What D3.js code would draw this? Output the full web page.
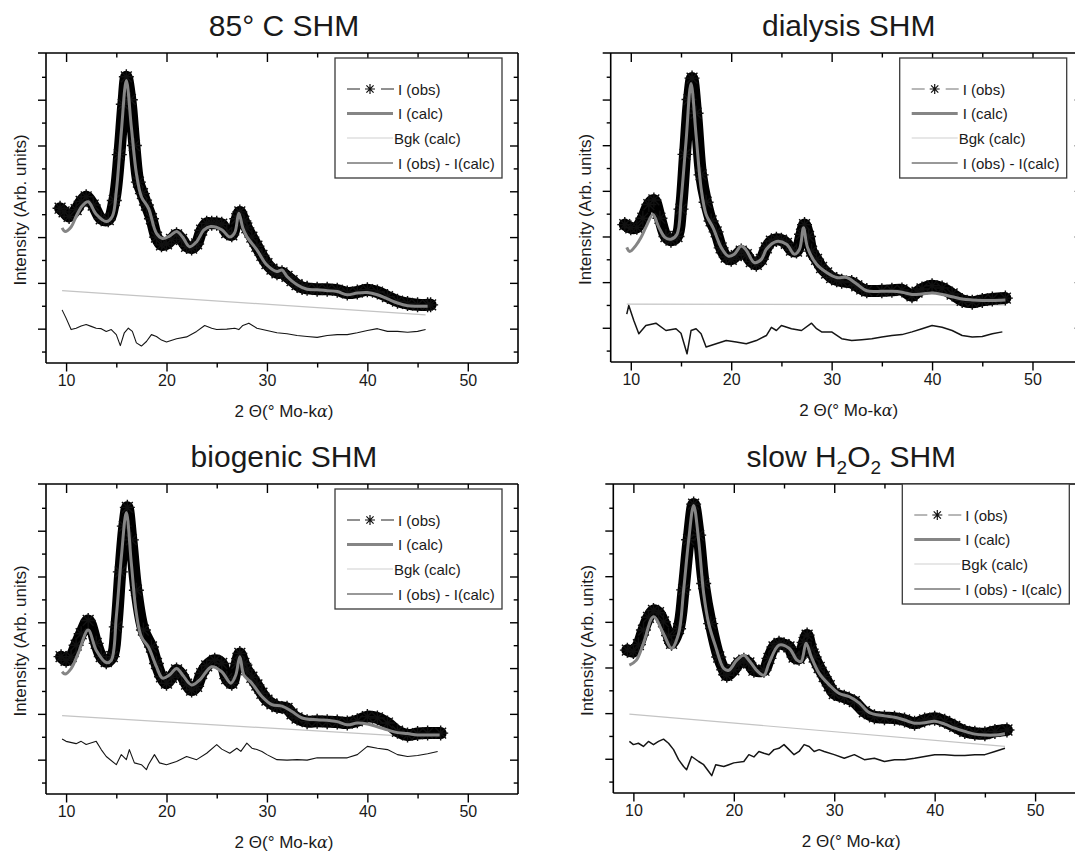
<!DOCTYPE html>
<html><head><meta charset="utf-8">
<script src="https://cdn.jsdelivr.net/npm/d3@7"></script>
<style>
body{margin:0;background:#fff;}
svg text{font-family:"Liberation Sans",Arial,sans-serif;fill:#1a1a1a;}
</style></head>
<body><svg id="c" width="1075" height="856"></svg>
<script>
// ---------- data ----------
const titles = ["85° C SHM", "dialysis SHM", "biogenic SHM", "slow H2O2 SHM"];
const xTickValues = [10, 20, 30, 40, 50];
const xTickLabels = ["10", "20", "30", "40", "50"];
const xMinorTicks = [15, 25, 35, 45];
const yMajorTicks = [0, 1, 2, 3, 4, 5];
const yMinorTicks = [-0.5, 0.5, 1.5, 2.5, 3.5, 4.5, 5.5];
const xLabel = "2 Θ(° Mo-kα)";
const yLabel = "Intensity (Arb. units)";
const legendLabels = ["I (obs)", "I (calc)", "Bgk (calc)", "I (obs) - I(calc)"];

// 85° C SHM
const calc1 = [[9.6,2.20],[9.9,2.12],[10.5,2.22],[11,2.45],[11.6,2.68],[12.2,2.77],[13,2.50],[14,2.34],[14.6,2.45],[15,3.0],[15.5,4.3],[16,5.42],[16.5,4.4],[17,3.39],[17.5,2.88],[18.2,2.63],[19,2.08],[19.6,1.97],[20.3,2.02],[21,2.12],[21.6,2.0],[22.3,1.79],[23,1.90],[23.7,2.15],[24.4,2.23],[25.5,2.16],[26.3,2.00],[26.8,2.1],[27.2,2.52],[27.6,2.2],[28,2.01],[29,1.72],[30,1.39],[31,1.25],[31.5,1.28],[32,1.14],[33,0.96],[34,0.86],[35,0.85],[36,0.83],[37,0.81],[38,0.74],[39,0.78],[40,0.79],[41,0.74],[42,0.65],[43,0.56],[44,0.50],[45,0.49],[46,0.49]];
const obs1 = [[9.4,2.63],[9.8,2.55],[10.3,2.45],[11,2.6],[11.5,2.78],[12,2.88],[12.7,2.7],[13.5,2.4],[14.2,2.38],[14.8,2.8],[15.3,3.8],[15.7,4.9],[16,5.5],[16.4,5.0],[16.8,4.0],[17.2,3.2],[17.6,2.95],[18,2.7],[18.5,2.4],[19,2.0],[19.5,1.83],[20,1.85],[20.5,1.95],[21,2.05],[21.5,1.95],[22,1.8],[22.5,1.76],[23,1.85],[23.5,2.15],[24,2.3],[24.5,2.3],[25,2.3],[25.5,2.28],[26,2.1],[26.5,2.05],[27,2.4],[27.3,2.55],[27.7,2.35],[28,2.2],[28.5,2.0],[29,1.8],[29.5,1.6],[30,1.42],[30.5,1.3],[31,1.22],[31.5,1.22],[32,1.14],[32.5,1.05],[33,0.96],[33.5,0.9],[34,0.88],[35,0.86],[36,0.86],[37,0.84],[38,0.78],[39,0.8],[40,0.85],[41,0.8],[42,0.7],[43,0.6],[44,0.55],[45,0.52],[46,0.52],[46.3,0.52]];
const bgk1 = [[9.6,0.83],[45.8,0.30]];
const diff1 = [[9.6,0.41],[10,0.23],[10.5,-0.02],[11,0.01],[11.5,0.06],[12,0.09],[12.5,0.05],[13,0.01],[13.5,0.0],[14,-0.06],[14.5,-0.02],[15,-0.13],[15.4,-0.37],[15.8,-0.09],[16.2,0.01],[16.6,-0.06],[17,-0.31],[17.5,-0.38],[18,-0.28],[18.5,-0.13],[19,-0.17],[19.5,-0.25],[20,-0.29],[21,-0.22],[22,-0.18],[23,-0.06],[23.8,0.07],[24.5,0.01],[25,-0.02],[26,-0.01],[26.8,0.01],[27.2,-0.02],[27.6,0.07],[28.2,0.12],[29,0.01],[30,-0.04],[31,-0.09],[32,-0.11],[33,-0.15],[34,-0.17],[35,-0.19],[36,-0.15],[37,-0.13],[38,-0.13],[39,-0.09],[40,-0.04],[41,0.0],[42,-0.06],[43,-0.06],[44,-0.08],[45,-0.06],[45.8,-0.02]];

// dialysis SHM
const calc2 = [[9.6,1.76],[9.9,1.67],[10.5,1.8],[11,1.97],[11.6,2.25],[12.2,2.48],[12.8,2.2],[13.4,1.98],[14,1.94],[14.6,2.05],[15,2.77],[15.5,4.08],[16,5.35],[16.5,4.22],[17,3.06],[17.5,2.48],[18.2,2.19],[19,1.76],[19.7,1.57],[20.3,1.61],[21,1.79],[21.5,1.70],[22.3,1.43],[23,1.50],[23.5,1.72],[24.5,1.89],[25.5,1.83],[26.3,1.61],[26.8,1.72],[27.2,2.19],[27.6,1.76],[28.5,1.39],[29.5,1.21],[30.5,1.10],[31.5,1.10],[32.5,0.96],[33.5,0.81],[35,0.80],[36,0.80],[37,0.78],[38,0.73],[39,0.74],[40,0.76],[41,0.73],[42,0.68],[43,0.63],[44,0.61],[45,0.60],[46,0.60],[47.3,0.61]];
const obs2 = [[9.4,2.26],[10,2.19],[10.6,2.2],[11.2,2.4],[11.8,2.7],[12.3,2.8],[12.9,2.4],[13.5,2.0],[14,1.92],[14.6,2.0],[15,2.6],[15.4,3.8],[15.8,5.0],[16.1,5.47],[16.5,4.7],[17,3.35],[17.5,2.75],[18,2.34],[18.5,2.1],[19,1.75],[19.5,1.55],[20,1.50],[20.5,1.58],[21,1.68],[21.5,1.6],[22,1.45],[22.5,1.39],[23,1.5],[23.5,1.75],[24,1.9],[24.5,1.94],[25,1.92],[25.5,1.85],[26,1.7],[26.5,1.68],[27,2.05],[27.3,2.26],[27.7,2.0],[28,1.68],[28.5,1.5],[29,1.32],[29.5,1.2],[30,1.10],[30.5,1.05],[31,1.02],[32,0.99],[32.5,0.92],[33,0.85],[33.5,0.81],[35,0.81],[36,0.82],[37,0.83],[38,0.70],[38.5,0.78],[39,0.85],[40,0.92],[41,0.87],[42,0.74],[43,0.60],[44,0.56],[45,0.60],[46,0.63],[47.3,0.65]];
const bgk2 = [[9.6,0.52],[47.3,0.50]];
const diff2 = [[9.6,0.30],[9.8,0.49],[10.3,0.16],[10.8,-0.13],[11.5,0.05],[12.5,0.10],[13.5,-0.06],[14.5,-0.02],[15,-0.12],[15.6,-0.57],[16,-0.06],[16.5,-0.02],[17,-0.13],[17.5,-0.42],[18.5,-0.35],[19.5,-0.28],[20.5,-0.31],[21.5,-0.35],[22.5,-0.28],[23.5,-0.17],[24,0.01],[24.5,-0.06],[25,0.05],[26,-0.02],[27,-0.06],[28,0.10],[28.5,-0.02],[29,-0.09],[30,-0.09],[31,-0.24],[32,-0.28],[33,-0.26],[34,-0.24],[35,-0.20],[36,-0.17],[37,-0.15],[38,-0.09],[39,-0.02],[40,0.05],[41,0.01],[42,-0.06],[43,-0.17],[44,-0.20],[45,-0.19],[46,-0.13],[47,-0.09]];

// biogenic SHM
const calc3 = [[9.6,1.92],[9.9,1.87],[10.5,1.99],[11.2,2.32],[12.2,2.83],[13,2.39],[14,2.12],[14.5,2.17],[15,3.12],[15.5,4.42],[16,5.40],[16.5,4.28],[17,3.19],[17.5,2.68],[18.2,2.46],[19,2.03],[19.6,1.78],[20.3,1.85],[21,1.99],[21.6,1.85],[22.5,1.63],[23.3,1.74],[24.5,2.03],[25.5,1.92],[26.4,1.67],[26.9,1.85],[27.3,2.25],[27.7,1.85],[28.5,1.67],[29.5,1.38],[30.5,1.20],[31.5,1.17],[32.5,1.05],[33.5,0.91],[35,0.87],[36,0.86],[37,0.83],[38,0.76],[39,0.80],[40,0.78],[41,0.72],[42,0.65],[43,0.59],[44,0.57],[45,0.54],[46,0.54],[47.2,0.54]];
const obs3 = [[9.5,2.25],[10,2.17],[10.5,2.25],[11,2.5],[11.5,2.75],[12.2,3.04],[13,2.54],[13.5,2.25],[14,2.14],[14.6,2.25],[15,2.9],[15.4,4.1],[15.8,5.1],[16.1,5.51],[16.5,4.8],[17,3.70],[17.7,2.83],[18.5,2.46],[19,2.1],[19.5,1.81],[20,1.67],[20.5,1.8],[21,1.96],[21.5,1.85],[22,1.65],[22.5,1.52],[23,1.6],[23.5,1.88],[24,2.05],[24.8,2.17],[25.5,2.1],[26,1.77],[26.5,1.67],[27,2.1],[27.3,2.32],[27.7,2.1],[28,1.96],[28.5,1.8],[29,1.63],[29.5,1.45],[30,1.30],[30.5,1.22],[31,1.16],[32,1.12],[32.5,1.0],[33,0.91],[34,0.83],[35,0.84],[36,0.83],[37,0.82],[38,0.80],[39,0.85],[40,0.94],[41,0.91],[42,0.80],[43,0.62],[44,0.54],[45,0.57],[46,0.58],[47.3,0.58]];
const bgk3 = [[9.6,0.96],[47,0.47]];
const diff3 = [[9.6,0.45],[10,0.40],[11,0.35],[11.5,0.40],[12,0.33],[13,0.40],[13.5,0.22],[14,0.07],[15,-0.11],[15.5,0.11],[16,0.0],[16.3,0.22],[16.8,-0.07],[17.5,-0.11],[18,-0.22],[18.2,-0.11],[18.8,0.11],[19.3,-0.07],[20,-0.11],[21,-0.04],[22,0.07],[23,0.0],[24,0.14],[25,0.33],[25.5,0.23],[26.3,0.14],[27,0.25],[27.4,0.18],[28,0.36],[28.5,0.25],[29,0.22],[29.5,0.18],[30,0.11],[31,0.0],[32,-0.01],[33,0.0],[34,-0.01],[35,0.04],[36,0.04],[37,0.04],[38,0.04],[39,0.11],[40,0.29],[41,0.25],[42,0.22],[43,0.11],[44,0.07],[45,0.09],[46,0.13],[47,0.18]];

// slow H2O2 SHM
const calc4 = [[9.6,2.05],[10.3,2.16],[11,2.53],[12,3.11],[13,2.74],[13.8,2.42],[14.5,2.74],[15,3.69],[15.5,4.78],[16,5.55],[16.5,4.78],[17,3.62],[17.5,2.96],[18.2,2.45],[19,1.98],[19.5,1.94],[20.3,2.16],[21,2.27],[21.6,2.13],[22.4,1.91],[23,1.83],[23.5,2.09],[24.5,2.49],[25.5,2.42],[26.3,2.16],[26.7,2.13],[27.2,2.53],[27.7,2.24],[28.5,1.87],[29.5,1.62],[30.5,1.43],[31.5,1.36],[32.5,1.22],[33.5,1.01],[35,0.94],[36,0.91],[37,0.85],[38,0.78],[39,0.79],[40,0.82],[41,0.76],[42,0.67],[43,0.60],[44,0.54],[45,0.52],[46,0.52],[47,0.55]];
const obs4 = [[9.4,2.38],[10,2.35],[10.5,2.5],[11,2.82],[11.5,3.1],[12,3.25],[12.5,3.2],[13,3.0],[13.5,2.7],[13.8,2.53],[14.5,2.85],[15,3.7],[15.5,4.8],[16,5.58],[16.5,4.9],[17,3.84],[17.7,2.96],[18.5,2.23],[19,1.95],[19.3,1.83],[20,1.95],[20.5,2.1],[21,2.16],[21.5,2.1],[22,1.94],[23,1.94],[23.5,2.2],[24,2.45],[24.5,2.53],[25,2.5],[25.5,2.45],[26,2.23],[26.5,2.2],[27,2.55],[27.3,2.71],[27.7,2.4],[28,2.23],[28.5,2.0],[29,1.80],[29.5,1.6],[30,1.43],[31,1.35],[32,1.25],[33,1.03],[34,0.92],[35,0.9],[36,0.89],[37,0.85],[38,0.78],[39,0.85],[40,0.89],[41,0.82],[42,0.71],[43,0.60],[44,0.56],[45,0.55],[46,0.6],[47.2,0.63]];
const bgk4 = [[9.6,0.98],[47,0.27]];
const diff4 = [[9.6,0.38],[10,0.31],[10.5,0.34],[11,0.27],[11.5,0.38],[12,0.31],[12.5,0.38],[13,0.43],[13.5,0.34],[14,0.20],[14.5,-0.02],[15,-0.17],[15.3,-0.24],[15.8,0.05],[16.5,-0.06],[17,-0.13],[17.5,-0.28],[17.8,-0.37],[18.2,-0.13],[19,-0.17],[19.5,-0.13],[20,-0.09],[21,-0.06],[21.5,0.09],[22,0.04],[22.5,0.16],[23,0.12],[23.5,0.09],[24,0.20],[24.5,0.23],[25,0.31],[25.5,0.20],[26,0.09],[26.5,0.16],[27,0.31],[27.5,0.27],[28,0.16],[28.5,0.20],[29,0.16],[30,0.09],[31,0.01],[32,0.09],[33,-0.02],[34,0.01],[35,-0.06],[36,-0.02],[37,-0.02],[38,0.01],[39,0.05],[40,0.09],[41,0.09],[42,0.07],[43,0.07],[44,0.09],[45,0.09],[46,0.16],[47,0.23]];

// ---------- layout ----------
const panels = [
  {title: titles[0], obs: obs1, calc: calc1, bgk: bgk1, diff: diff1, left: 46,    top: 53,  h: 310, legTop: 5, gray: false},
  {title: titles[1], obs: obs2, calc: calc2, bgk: bgk2, diff: diff2, left: 610.7, top: 53,  h: 309, legTop: 5, gray: true},
  {title: titles[2], obs: obs3, calc: calc3, bgk: bgk3, diff: diff3, left: 46,    top: 484, h: 310, legTop: 5, gray: false},
  {title: titles[3], obs: obs4, calc: calc4, bgk: bgk4, diff: diff4, left: 613.3, top: 484, h: 309, legTop: 0, gray: true, sub: true}
];
const W = 472;
const svg = d3.select("#c");

function asterisk(r) {
  const d = r * 0.72;
  return `M${-r},0L${r},0M0,${-r}L0,${r}M${-d},${-d}L${d},${d}M${-d},${d}L${d},${-d}`;
}

panels.forEach(p => {
  const g = svg.append("g").attr("transform", `translate(${p.left},${p.top})`);
  const x = d3.scaleLinear().domain([8, 55]).range([0, W]);
  const y = d3.scaleLinear().domain([-0.75, 6.02]).range([p.h, 0]);

  // title
  const tx = x(31.5) + 2;
  const t = g.append("text").attr("x", tx).attr("y", -17).attr("text-anchor", "middle")
    .attr("font-size", 30);
  if (p.sub) {
    t.append("tspan").text("slow H");
    t.append("tspan").text("2").attr("font-size", 19).attr("dy", 7);
    t.append("tspan").text("O").attr("dy", -7);
    t.append("tspan").text("2").attr("font-size", 19).attr("dy", 7);
    t.append("tspan").text(" SHM").attr("dy", -7);
  } else t.text(p.title);

  // data
  const line = d3.line().x(d => x(d[0])).y(d => y(d[1]));
  const smooth = d3.line().x(d => x(d[0])).y(d => y(d[1])).curve(d3.curveCatmullRom.alpha(0.5));
  g.append("path").datum(p.bgk).attr("d", line).attr("fill", "none")
    .attr("stroke", "#c4c4c4").attr("stroke-width", 1.2);
  g.append("path").datum(p.diff).attr("d", line).attr("fill", "none")
    .attr("stroke", "#151515").attr("stroke-width", p.gray ? 1.5 : 1.1).attr("stroke-linejoin", "round");
  g.append("path").datum(p.obs).attr("d", smooth).attr("fill", "none")
    .attr("stroke", "#000").attr("stroke-width", 12).attr("stroke-linejoin", "round").attr("stroke-linecap", "round");
  g.selectAll(".ast").data(p.obs).join("path").attr("class", "ast")
    .attr("transform", d => `translate(${x(d[0])},${y(d[1])})`)
    .attr("d", asterisk(7.5)).attr("stroke", "#111").attr("stroke-width", 1.4).attr("fill", "none");
  g.append("path").datum(p.calc).attr("d", smooth).attr("fill", "none")
    .attr("stroke", "#858585").attr("stroke-width", 3).attr("stroke-linejoin", "round");

  // axes
  const styleAxis = sel => { sel.select(".domain").remove(); sel.selectAll("line").attr("stroke", "#000").attr("stroke-width", 1.4); };
  g.append("g").attr("transform", `translate(0,${p.h})`)
    .call(d3.axisBottom(x).tickValues(xTickValues).tickFormat((d, i) => xTickLabels[i]).tickSize(8.5).tickPadding(3))
    .call(styleAxis)
    .call(s => s.selectAll("text").attr("font-size", 16).attr("fill", "#1a1a1a").attr("font-family", "Liberation Sans, Arial, sans-serif"));
  g.append("g").attr("transform", `translate(0,${p.h})`)
    .call(d3.axisBottom(x).tickValues(xMinorTicks).tickFormat("").tickSize(4.5)).call(styleAxis);
  g.append("g").call(d3.axisTop(x).tickValues(xTickValues).tickFormat("").tickSize(-9)).call(styleAxis);
  g.append("g").call(d3.axisTop(x).tickValues(xMinorTicks).tickFormat("").tickSize(-4.5)).call(styleAxis);
  g.append("g").call(d3.axisLeft(y).tickValues(yMajorTicks).tickFormat("").tickSize(8)).call(styleAxis);
  g.append("g").call(d3.axisLeft(y).tickValues(yMinorTicks).tickFormat("").tickSize(4)).call(styleAxis);
  g.append("g").attr("transform", `translate(${W},0)`)
    .call(d3.axisRight(y).tickValues(yMajorTicks).tickFormat("").tickSize(-8)).call(styleAxis);
  g.append("g").attr("transform", `translate(${W},0)`)
    .call(d3.axisRight(y).tickValues(yMinorTicks).tickFormat("").tickSize(-4.3)).call(styleAxis);

  // frame
  const fr = g.append("g").attr("stroke", "#000").attr("stroke-width", 1.6);
  fr.append("line").attr("x1", -8).attr("x2", W).attr("y1", 0).attr("y2", 0);
  fr.append("line").attr("x1", 0).attr("x2", W).attr("y1", p.h).attr("y2", p.h);
  fr.append("line").attr("x1", 0).attr("x2", 0).attr("y1", 0).attr("y2", p.h);
  fr.append("line").attr("x1", W).attr("x2", W).attr("y1", 0).attr("y2", p.h);

  // axis titles
  const xt = g.append("text").attr("x", 238).attr("y", p.h + 54).attr("text-anchor", "middle").attr("font-size", 17);
  xt.append("tspan").text("2 Θ");
  xt.append("tspan").text("(° Mo-k");
  xt.append("tspan").text("α").attr("font-family", "DejaVu Serif, serif").attr("font-style", "italic").attr("font-size", 16);
  xt.append("tspan").text(")");
  g.append("text").attr("transform", `translate(-20,${p.h / 2 + 2}) rotate(-90)`)
    .attr("text-anchor", "middle").attr("font-size", 17).text(yLabel);

  // legend
  const lg = g.append("g").attr("transform", `translate(289,${p.legTop})`);
  lg.append("rect").attr("width", 167).attr("height", 120).attr("fill", "#fff")
    .attr("stroke", "#3a3a3a").attr("stroke-width", 1.3);
  const rows = [31, 55.5, 80, 105];
  const segCol = p.gray ? "#707070" : "#222";
  lg.append("line").attr("x1", 12).attr("x2", 25).attr("y1", rows[0]).attr("y2", rows[0]).attr("stroke", segCol).attr("stroke-width", 1);
  lg.append("line").attr("x1", 46).attr("x2", 59).attr("y1", rows[0]).attr("y2", rows[0]).attr("stroke", segCol).attr("stroke-width", 1);
  lg.append("path").attr("transform", `translate(35,${rows[0]})`).attr("d", asterisk(5)).attr("stroke", "#111").attr("stroke-width", 1.2);
  lg.append("line").attr("x1", 12).attr("x2", 58).attr("y1", rows[1]).attr("y2", rows[1]).attr("stroke", "#858585").attr("stroke-width", 3);
  lg.append("line").attr("x1", 12).attr("x2", 58).attr("y1", rows[2]).attr("y2", rows[2]).attr("stroke", "#cfcfcf").attr("stroke-width", 1.2);
  lg.append("line").attr("x1", 12).attr("x2", 58).attr("y1", rows[3]).attr("y2", rows[3]).attr("stroke", "#333").attr("stroke-width", 1);
  legendLabels.forEach((lab, i) => {
    lg.append("text").attr("x", i === 2 ? 59 : 63).attr("y", rows[i] + 5.5).attr("font-size", 15).text(lab);
  });
});
</script></body></html>
